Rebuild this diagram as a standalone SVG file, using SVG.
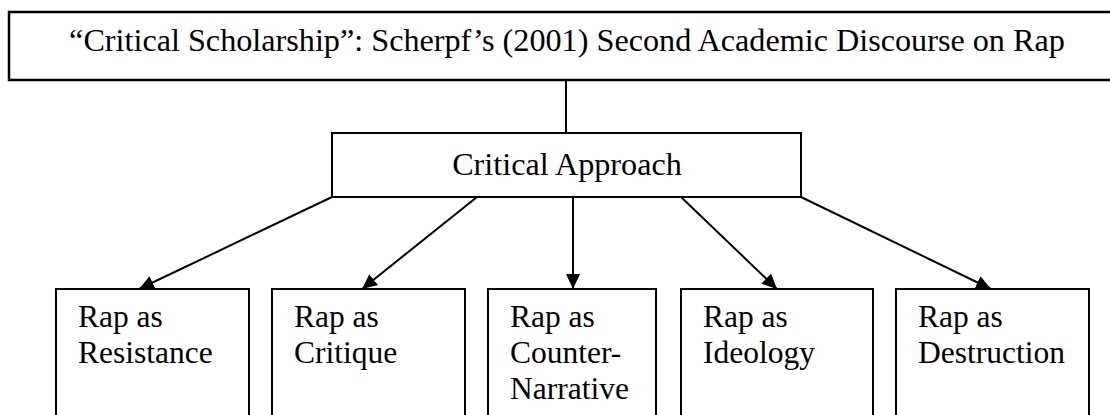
<svg xmlns="http://www.w3.org/2000/svg" width="1110" height="415" viewBox="0 0 1110 415" font-family="Liberation Serif, Times New Roman, DejaVu Serif, serif">
<style>
.box{fill:#fff;stroke:#000;stroke-width:2}
text{font-family:'Liberation Serif','Times New Roman','DejaVu Serif',serif;font-size:31.5px;fill:#000}
.big{font-size:32.2px}
.c{stroke:#000;stroke-width:2;fill:none}
</style>
<defs>
<marker id="ah" markerUnits="userSpaceOnUse" markerWidth="16" markerHeight="14" refX="15" refY="7" orient="auto">
<path d="M0,0 L15,7 L0,14 Z" fill="#000"/>
</marker>
</defs>
<rect width="1110" height="415" fill="#fff"/>
<g id="connectors">
<line class="c" x1="566" y1="80" x2="566" y2="133"/>
<line class="c" x1="332" y1="197" x2="139" y2="289" marker-end="url(#ah)"/>
<line class="c" x1="477" y1="197" x2="362" y2="289" marker-end="url(#ah)"/>
<line class="c" x1="573" y1="197" x2="573" y2="289" marker-end="url(#ah)"/>
<line class="c" x1="681" y1="197" x2="777" y2="289" marker-end="url(#ah)"/>
<line class="c" x1="801" y1="197" x2="991" y2="289" marker-end="url(#ah)"/>
</g>
<g id="title">
<rect class="box" x="9" y="12" width="1110" height="68" style="stroke-width:2.5"/>
<text class="big" x="567" y="51" text-anchor="middle">“Critical Scholarship”: Scherpf’s (2001) Second Academic Discourse on Rap</text>
</g>
<g id="critical-approach">
<rect class="box" x="332" y="133" width="469" height="64"/>
<text class="big" x="567" y="175" text-anchor="middle">Critical Approach</text>
</g>
<g id="resistance">
<rect class="box" x="56" y="289" width="193" height="140"/>
<text x="78" y="327">Rap as</text>
<text x="78" y="363">Resistance</text>
</g>
<g id="critique">
<rect class="box" x="272" y="289" width="193" height="140"/>
<text x="294" y="327">Rap as</text>
<text x="294" y="363">Critique</text>
</g>
<g id="counter-narrative">
<rect class="box" x="488" y="289" width="168" height="140"/>
<text x="510" y="327">Rap as</text>
<text x="510" y="363">Counter-</text>
<text x="510" y="399">Narrative</text>
</g>
<g id="ideology">
<rect class="box" x="681" y="289" width="192" height="140"/>
<text x="703" y="327">Rap as</text>
<text x="703" y="363">Ideology</text>
</g>
<g id="destruction">
<rect class="box" x="896" y="289" width="193" height="140"/>
<text x="918" y="327">Rap as</text>
<text x="918" y="363">Destruction</text>
</g>
</svg>
